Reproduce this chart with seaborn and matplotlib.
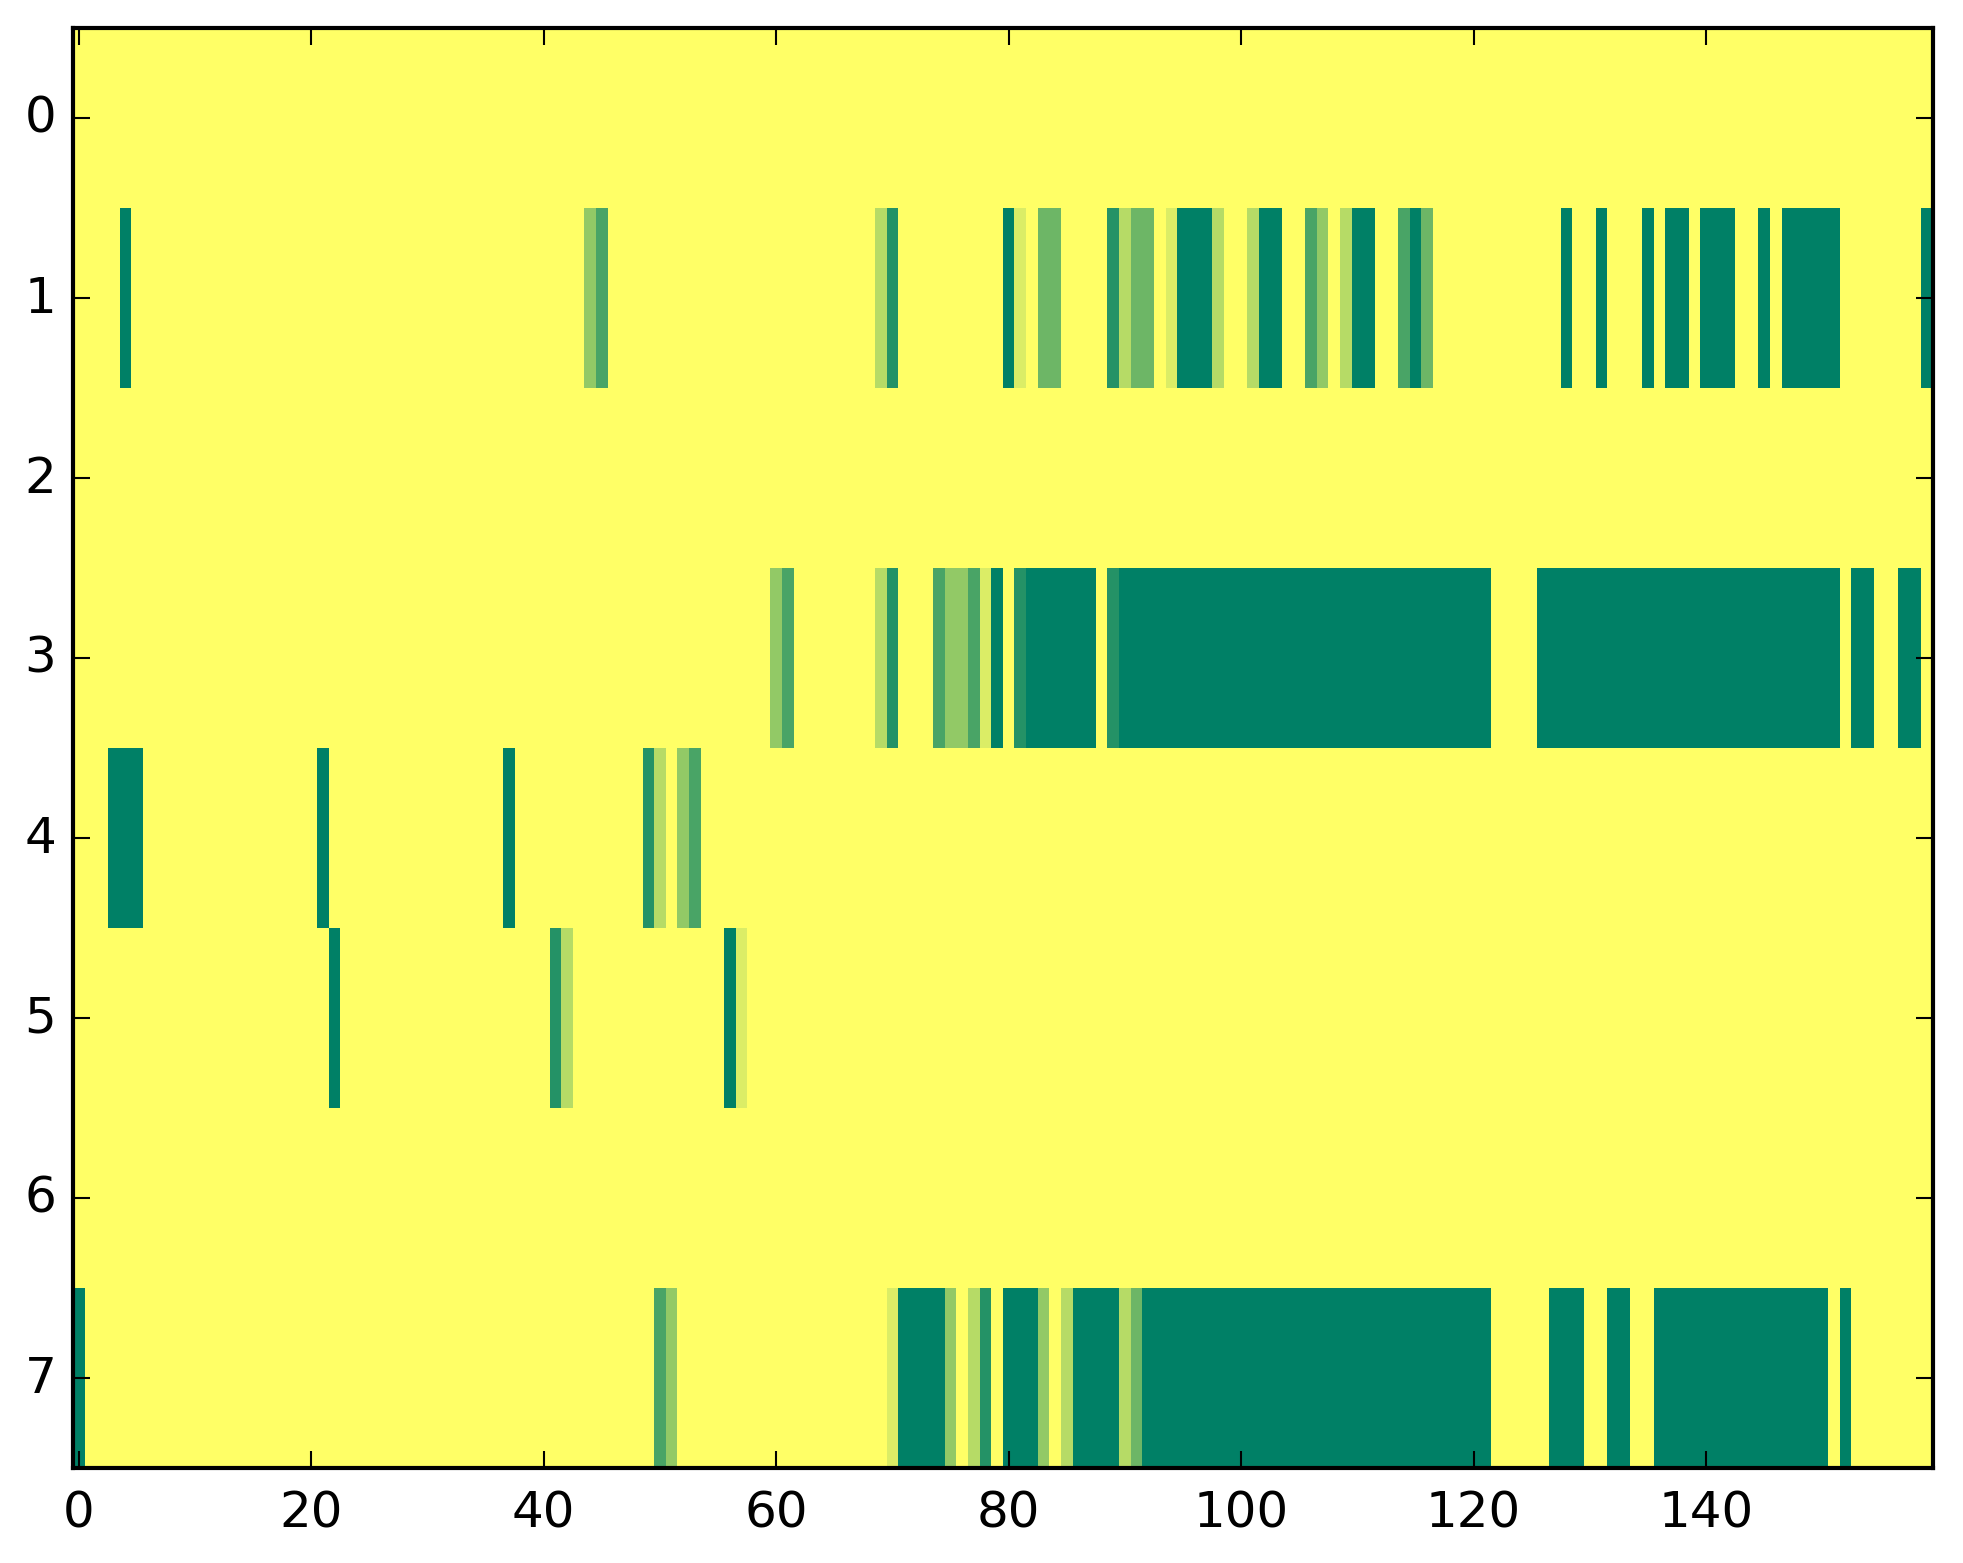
import numpy as np
import pandas as pd
import matplotlib
matplotlib.use("Agg")
import matplotlib.pyplot as plt
import seaborn as sns

# each digit is one cell, level k means value k/7 (0 = yellow, 7 = dark green)
# 160 columns per row, written in chunks of 20
row0 = "0" * 160
row1 = ("00007000000000000000" "00000000000000000000"
        "00003500000000000000" "00000000026000000000"
        "71044000062440177720" "02770053027700574000"
        "00000000700700070770" "77700707777700000007")
row2 = "0" * 160
row3 = ("00000000000000000000" "00000000000000000000"
        "00000000000000000000" "35000000026000533517"
        "06777777067777777777" "77777777777777777777"
        "77000077777777777777" "77777777777707700770")
row4 = ("00077700000000000000" "07000000000000000700"
        "00000000062035000000" "00000000000000000000"
        "00000000000000000000" "00000000000000000000"
        "00000000000000000000" "00000000000000000000")
row5 = ("00000000000000000000" "00700000000000000000"
        "06200000000000007100" "00000000000000000000"
        "00000000000000000000" "00000000000000000000"
        "00000000000000000000" "00000000000000000000")
row6 = "0" * 160
row7 = ("70000000000000000000" "00000000000000000000"
        "00000000005300000000" "00000000001777730260"
        "77730277772477777777" "77777777777777777777"
        "77000007770077007777" "77777777777070000000")

rows = [row0, row1, row2, row3, row4, row5, row6, row7]
x_ticks = list(range(0, 160, 20))
y_ticks = list(range(8))

data = pd.DataFrame([[int(c) / 7 for c in r] for r in rows])

plt.style.use("classic")
plt.rcParams["figure.facecolor"] = "white"
plt.rcParams["savefig.facecolor"] = "white"
plt.rcParams["font.family"] = ["DejaVu Sans"]
plt.rcParams["font.size"] = 12

W, H = 1963, 1564
fig = plt.figure(figsize=(W / 300, H / 300), dpi=300)
ax = fig.add_axes([73.1 / W, (H - 1468.8) / H, 1859.5 / W, 1440 / H])

sns.heatmap(data, cmap="summer_r", vmin=0, vmax=1, cbar=False, ax=ax,
            linewidths=0)

for s in ax.spines.values():
    s.set_visible(True)
    s.set_linewidth(1.0)
    s.set_color("black")

ax.set_xticks(np.array(x_ticks) + 0.5)
ax.set_xticklabels([str(t) for t in x_ticks], rotation=0)
ax.set_yticks(np.array(y_ticks) + 0.5)
ax.set_yticklabels([str(t) for t in y_ticks], rotation=0, va="center")
ax.tick_params(direction="in", top=True, right=True, length=4, width=0.5,
               labelsize=12, pad=4)
ax.tick_params(axis="x", pad=5)
ax.set_xlabel("")
ax.set_ylabel("")

fig.savefig("out.png", dpi=300)
